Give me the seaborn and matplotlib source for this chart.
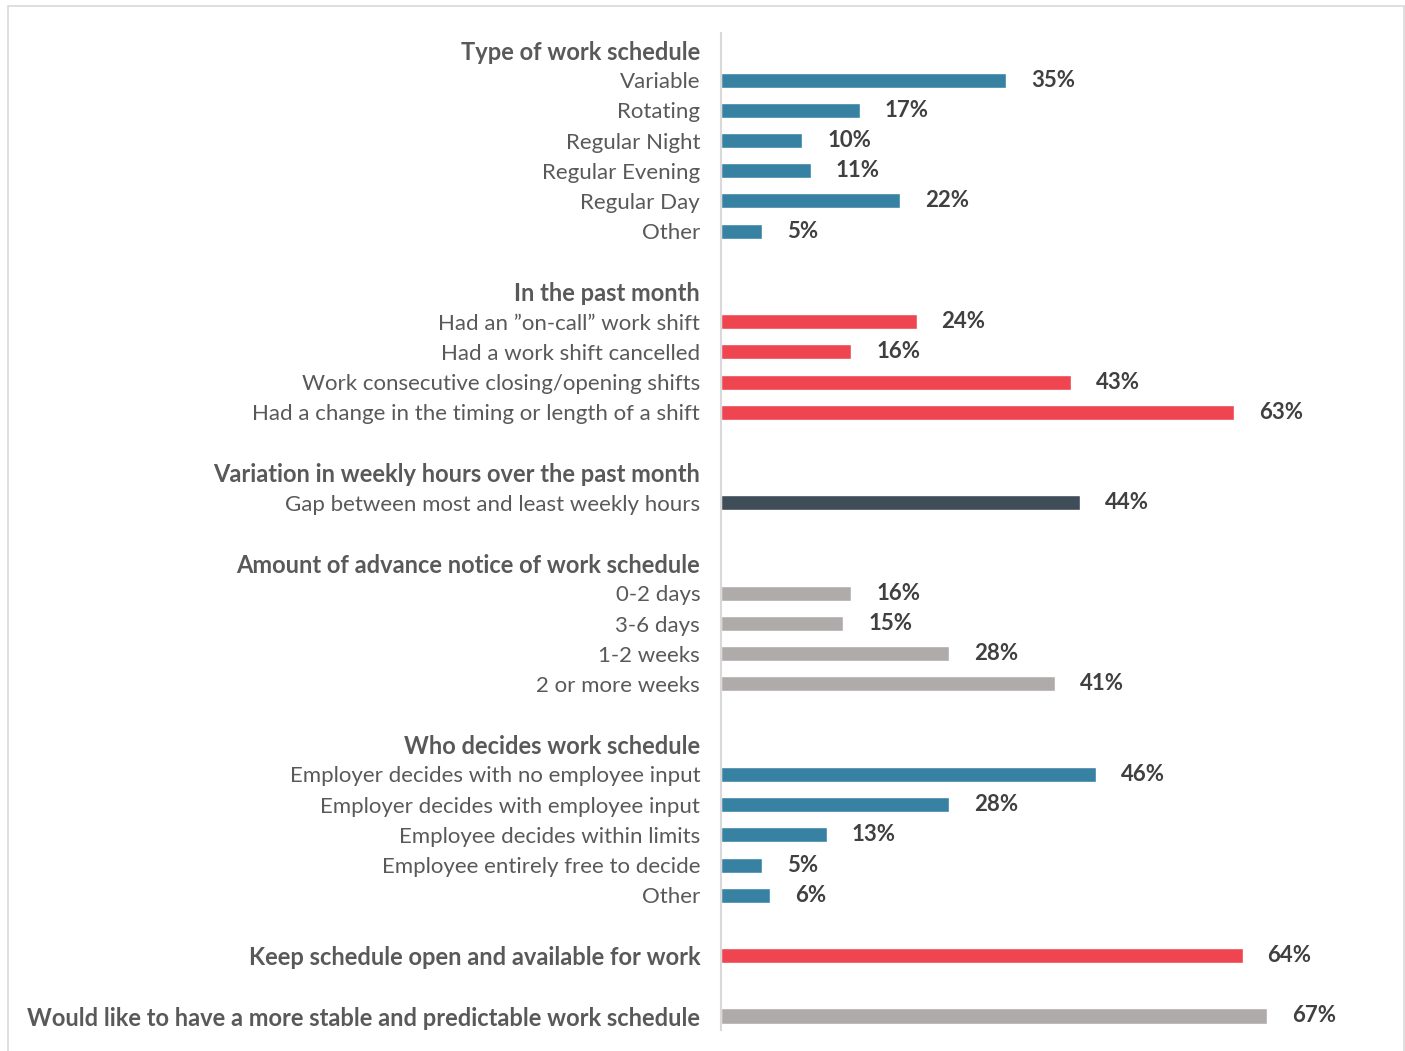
import numpy as np
import pandas as pd
import matplotlib
matplotlib.use("Agg")
import matplotlib.pyplot as plt
import seaborn as sns

sns.set_theme(style="white")
plt.rcParams["font.family"] = ["Lato", "DejaVu Sans"]

# Row labels, top to bottom (headers and spacer rows included)
labels = [
    "Type of work schedule",
    "Variable", "Rotating", "Regular Night", "Regular Evening", "Regular Day", "Other",
    "",
    "In the past month",
    "Had an \u201don-call\u201d work shift", "Had a work shift cancelled",
    "Work consecutive closing/opening shifts",
    "Had a change in the timing or length of a shift",
    "",
    "Variation in weekly hours over the past month",
    "Gap between most and least weekly hours",
    "",
    "Amount of advance notice of work schedule",
    "0-2 days", "3-6 days", "1-2 weeks", "2 or more weeks",
    "",
    "Who decides work schedule",
    "Employer decides with no employee input", "Employer decides with employee input",
    "Employee decides within limits", "Employee entirely free to decide", "Other",
    "",
    "Keep schedule open and available for work",
    "",
    "Would like to have a more stable and predictable work schedule",
]

# Percentages (None for header / spacer rows)
values = [
    None,
    35, 17, 10, 11, 22, 5,
    None,
    None,
    24, 16, 43, 63,
    None,
    None,
    44,
    None,
    None,
    16, 15, 28, 41,
    None,
    None,
    46, 28, 13, 5, 6,
    None,
    64,
    None,
    67,
]

# Colour group of each row
groups = [
    "", "blue", "blue", "blue", "blue", "blue", "blue", "",
    "", "red", "red", "red", "red", "",
    "", "dark", "",
    "", "grey", "grey", "grey", "grey", "",
    "", "blue", "blue", "blue", "blue", "blue", "",
    "red", "",
    "grey",
]

bold_rows = {0, 8, 14, 17, 23, 30, 32}

palette = {"blue": "#3782A3", "red": "#EF4550", "dark": "#3F4D59", "grey": "#AFABAA", "": "#FFFFFF"}

keys = [f"r{i:02d}" for i in range(len(labels))]
df = pd.DataFrame({
    "row": keys,
    "value": [np.nan if v is None else v for v in values],
    "group": groups,
})

W, H = 1405, 1051
fig = plt.figure(figsize=(W / 100, H / 100), dpi=100)
ax_left, ax_right = 721, 1400
ax_top, ax_bottom = 33, 1030
ax = fig.add_axes([ax_left / W, 1 - ax_bottom / H, (ax_right - ax_left) / W, (ax_bottom - ax_top) / H])

sns.barplot(data=df, x="value", y="row", hue="group", order=keys, palette=palette,
            dodge=False, width=0.5, orient="h", legend=False, ax=ax, errorbar=None,
            saturation=1)

px_per_pct = (1267 - 721) / 67.0
ax.set_xlim(0, (ax_right - ax_left) / px_per_pct)
row_px = (1016 - 50) / 32.0
ax.set_ylim(32 + (ax_bottom - 1016) / row_px, (ax_top - 50) / row_px)

ax.set_yticks(range(len(keys)))
ax.set_yticklabels(labels)
for i, t in enumerate(ax.get_yticklabels()):
    t.set_fontsize(16)
    t.set_color("#595959")
    if i in bold_rows:
        t.set_fontweight("bold")
        t.set_fontsize(17)
ax.tick_params(axis="y", length=0, pad=15)
ax.set_xticks([])
ax.set_xlabel("")
ax.set_ylabel("")

for s in ["top", "right", "bottom"]:
    ax.spines[s].set_visible(False)
ax.spines["left"].set_color("#D9D9D9")
ax.spines["left"].set_linewidth(1.5)

for i, v in enumerate(values):
    if v is None:
        continue
    ax.annotate(f"{v}%", xy=(v, i), xytext=(18, 0), textcoords="offset points",
                va="center", ha="left", fontsize=16, fontweight="bold", color="#404040")

# Thin frame around the figure
frame = plt.Rectangle((8 / W, -0.01), (1404 - 8) / W, 1.01 - 6 / H, transform=fig.transFigure,
                      fill=False, edgecolor="#D9D9D9", linewidth=1.2)
fig.patches.append(frame)

fig.savefig("out.png", dpi=100, facecolor="white")
